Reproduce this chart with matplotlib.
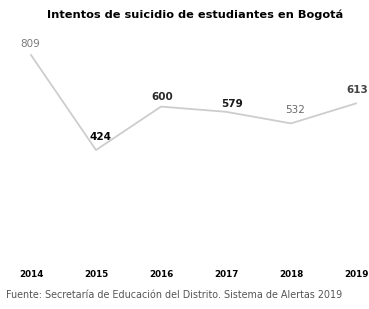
import numpy as np
import matplotlib
matplotlib.use("Agg")
from matplotlib import pyplot as plt

# Datos del grafico
anios = ["2014", "2015", "2016", "2017", "2018", "2019"]
intentos = [809, 424, 600, 579, 532, 613]
# color y grosor de cada etiqueta (el escaneo las deja mas o menos oscuras)
colores_etq = ["#7a7a7a", "#000000", "#2a2a2a", "#1a1a1a", "#6a6a6a", "#444444"]
pesos_etq = ["normal", "bold", "bold", "bold", "normal", "bold"]
desfases = [(-1, 11), (4, 13), (1, 10), (6, 8), (4, 13), (1, 13)]

fig = plt.figure(figsize=(3.69, 3.09), dpi=100)
ax = fig.add_axes([0, 0.159, 1, 0.841])
x = np.arange(len(anios))
ax.plot(x, intentos, color="#cdcdcd", linewidth=1.3)

for i in range(len(anios)):
    ax.annotate(str(intentos[i]), (x[i], intentos[i]), xytext=desfases[i],
                textcoords="offset pixels", ha="center", va="center",
                fontsize=7.5, color=colores_etq[i], fontweight=pesos_etq[i])

ax.set_xlim(-0.477, 5.2)
ax.set_ylim(-21, 1032)
ax.set_xticks(x)
ax.set_xticklabels(anios, fontsize=6.3, fontweight="bold")
ax.tick_params(axis="x", length=0, pad=7)
ax.set_yticks([])
for s in ax.spines.values():
    s.set_visible(False)

fig.text(0.53, 0.953, "Intentos de suicidio de estudiantes en Bogotá",
         ha="center", va="center", fontsize=8.2, fontweight="bold")
fig.text(0.015, 0.045, "Fuente: Secretaría de Educación del Distrito. Sistema de Alertas 2019",
         ha="left", va="center", fontsize=6.9, color="#555555")

fig.savefig("out.png", dpi=100)
